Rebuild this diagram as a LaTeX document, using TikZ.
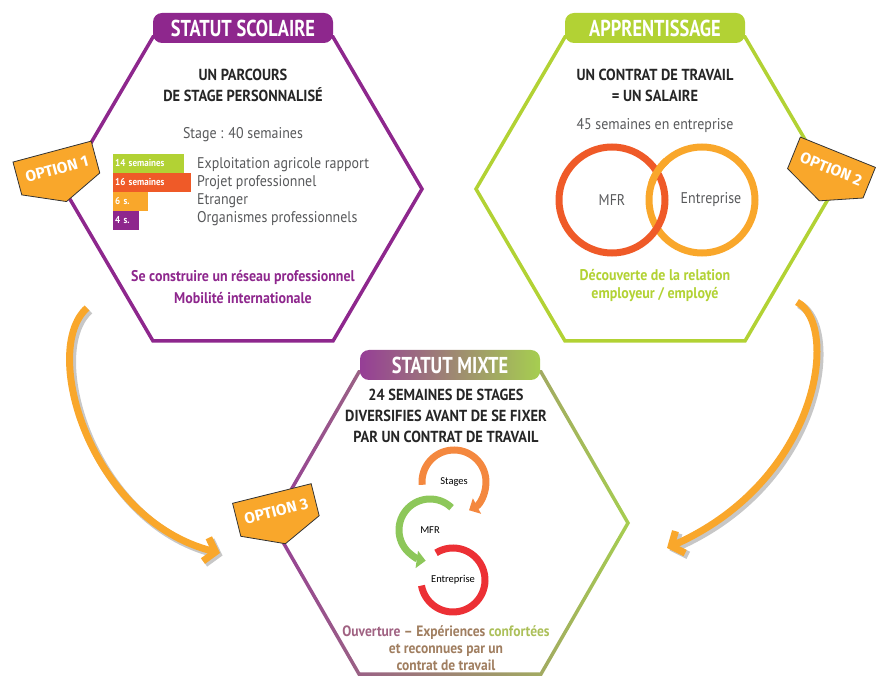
\documentclass[tikz,border=0pt]{standalone}
\usepackage{fontspec}
\setmainfont{PT Sans}[FakeStretch=0.9]
\newfontfamily\titlefamily{PT Sans}[FakeStretch=0.8]
\newfontfamily\tagfamily{Fira Sans}
\newfontfamily\cyclefamily{Carlito}
\usepackage{xcolor}
\usepackage{tikz}
\usetikzlibrary{arrows.meta,positioning}
\definecolor{scolpurple}{RGB}{142, 39, 141}
\definecolor{apprgreen}{RGB}{178, 210, 52}
\definecolor{mixpurple}{RGB}{150, 62, 150}
\definecolor{mixgreen}{RGB}{166, 206, 80}
\definecolor{tagorange}{RGB}{249, 167, 43}
\definecolor{barred}{RGB}{239, 90, 40}
\definecolor{textgray}{RGB}{88, 89, 91}
\definecolor{stageorange}{RGB}{244, 136, 63}
\definecolor{cycgreen}{RGB}{141, 199, 90}
\definecolor{cycred}{RGB}{236, 48, 53}
\definecolor{txtmauve}{RGB}{160, 98, 130}
\definecolor{txtbrown}{RGB}{160, 126, 96}
\definecolor{txtolive}{RGB}{172, 192, 90}

\newcommand{\titlesize}{\titlefamily\bfseries\fontsize{23}{25}\selectfont}
\newcommand{\headsize}{\fontsize{16}{21}\selectfont}
\newcommand{\graysize}{\fontsize{15.5}{17}\selectfont}
\newcommand{\slogansize}{\fontsize{15.5}{18}\selectfont}

% flat-topped hexagon round (#2,#3)
\newcommand{\hexagon}[3]{\draw[hexline, #1] ({#2-90},{#3+152}) -- ({#2+90},{#3+152}) -- ({#2+179},#3) -- ({#2+90},{#3-152}) -- ({#2-90},{#3-152}) -- ({#2-179},#3) -- cycle;}
% option tag: name, x, y, angle, text
\newcommand{\optiontag}[5]{%
  \begin{scope}[shift={(#2,#3)}, rotate=#4]
    \draw[tag] (-40.5,17) -- (40.5,17) -- (40.5,-16) -- (1,-35) -- (-40.5,-17) -- cycle;
    \node[tagtxt] (#1) at (0,-1) {#5};
  \end{scope}}

\tikzset{
  hexline/.style={line width=3.5pt, line join=miter},
  titlepill/.style={rectangle, rounded corners=9pt, minimum width=180pt, minimum height=30pt, inner sep=0pt, text=white, font=\titlesize},
  headtxt/.style={align=center, font=\headsize\bfseries, text=black!85},
  graytxt/.style={font=\graysize, text=textgray, inner sep=0pt},
  slogan/.style={align=center, font=\slogansize\bfseries},
  bar/.style={anchor=west, minimum height=19pt, inner xsep=2pt, inner ysep=0pt, align=left, text=white, font=\fontsize{10}{12}\selectfont\bfseries},
  tag/.style={draw=black!80, line width=0.8pt, fill=tagorange, line join=miter},
  tagtxt/.style={text=white, font=\tagfamily\bfseries\fontsize{15.5}{16}\selectfont, inner sep=0pt, transform shape},
  ring/.style={circle, line width=7pt, minimum size=106pt, inner sep=0pt, font=\graysize, text=textgray},
  cyc/.style={line width=7pt},
  cyctxt/.style={font=\cyclefamily\fontsize{10.5}{12}\selectfont},
  bigarrow/.style={line width=7pt, draw=tagorange, -{Straight Barb[length=10pt,width=24pt]}},
  arrowshadow/.style={line width=8pt, draw=black!22, -{Straight Barb[length=10pt,width=24pt]}},
}

\begin{document}
\begin{tikzpicture}[x=1pt, y=1pt]
  \useasboundingbox (0,0) rectangle (895,-700);

  % curved arrows towards the mixed status
  \coordinate (lstart) at (87,-308);
  \coordinate (lend) at (220,-553);
  \coordinate (rstart) at (797,-302);
  \coordinate (rend) at (667,-548);
  \draw[arrowshadow] ([xshift=2.5pt,yshift=-2.5pt]lstart) .. controls (42.5,-352.5) and (92.5,-522.5) .. ([xshift=2.5pt,yshift=-2.5pt]lend);
  \draw[arrowshadow] ([xshift=2.5pt,yshift=-2.5pt]rstart) .. controls (842.5,-327.5) and (822.5,-482.5) .. ([xshift=2.5pt,yshift=-2.5pt]rend);
  \draw[bigarrow] (lstart) .. controls (40,-350) and (90,-520) .. (lend);
  \draw[bigarrow] (rstart) .. controls (840,-325) and (820,-480) .. (rend);

  % hexagons
  \hexagon{scolpurple}{243}{-189}
  \hexagon{apprgreen}{655}{-189}
  \shade[left color=mixpurple, right color=mixgreen, even odd rule]
    (358,-370.25) -- (542,-370.25) -- (630,-523) -- (542,-675.75) -- (358,-675.75) -- (270,-523) -- cycle
    (360,-373.75) -- (274,-523) -- (360,-672.25) -- (540,-672.25) -- (626,-523) -- (540,-373.75) -- cycle;

  % titles
  \node[titlepill, fill=scolpurple] (scolaire) at (243,-28) {STATUT SCOLAIRE};
  \node[titlepill, fill=apprgreen] (apprentissage) at (655,-28) {APPRENTISSAGE};
  \node[titlepill, left color=mixpurple, right color=mixgreen] (mixte) at (450,-365) {STATUT MIXTE};

  % statut scolaire
  \node[headtxt] (parcours) at (243,-85) {UN PARCOURS\\DE STAGE PERSONNALISÉ};
  \node[graytxt] (stage) at (243,-135) {Stage : 40 semaines};
  \node[bar, fill=apprgreen, text width=67pt] (w14) at (113,-163.5) {14 semaines};
  \node[bar, fill=barred, text width=74pt] (w16) at (113,-182.5) {16 semaines};
  \node[bar, fill=tagorange, text width=31pt] (w6) at (113,-201.5) {6 s.};
  \node[bar, fill=scolpurple, text width=22pt] (w4) at (113,-220.5) {4 s.};
  \node[graytxt, anchor=west] (exploitation) at (197,-165) {Exploitation agricole rapport};
  \node[graytxt, anchor=west] (projet) at (197,-183) {Projet professionnel};
  \node[graytxt, anchor=west] (etranger) at (197,-201) {Etranger};
  \node[graytxt, anchor=west] (organismes) at (197,-219) {Organismes professionnels};
  \node[slogan, text=scolpurple] (reseau) at (243,-277) {Se construire un réseau professionnel};
  \node[slogan, text=scolpurple] (mobilite) at (243,-298) {Mobilité internationale};

  % apprentissage
  \node[headtxt] (contrat) at (655,-85) {UN CONTRAT DE TRAVAIL\\= UN SALAIRE};
  \node[graytxt] (entsemaines) at (655,-126) {45 semaines en entreprise};
  \node[ring, draw=tagorange] (entreprise) at (702,-200) {\hspace*{18pt}Entreprise};
  \node[ring, draw=barred] (mfr) at (612,-200) {MFR};
  \draw[line width=7pt, tagorange] ([shift={(132:53)}]entreprise.center) arc[start angle=132, end angle=162, radius=53];
  \node[slogan, text=apprgreen] (decouverte) at (655,-286) {Découverte de la relation\\employeur / employé};

  % statut mixte
  \node[headtxt] (diversifies) at (446,-416) {24 SEMAINES DE STAGES\\DIVERSIFIES AVANT DE SE FIXER\\PAR UN CONTRAT DE TRAVAIL};
  \node[cyctxt] (stages) at (454,-482) {Stages};
  \node[cyctxt] (mfrcyc) at (430,-530) {MFR};
  \node[cyctxt] (entrcyc) at (453,-580) {Entreprise};
  \draw[cyc, stageorange, -{Triangle[length=9pt,width=17pt]}] ([shift={(185:32)}]stages.center) arc[start angle=185, end angle=-62, radius=32];
  \draw[cyc, cycred] ([shift={(190:32)}]entrcyc.center) arc[start angle=190, end angle=482, radius=32];
  \draw[cyc, cycgreen, -{Triangle[length=9pt,width=17pt]}] ([shift={(46:31)}]mfrcyc.center) arc[start angle=46, end angle=262, radius=31];
  \node[slogan, font=\fontsize{15}{17}\selectfont\bfseries, text=txtbrown] (ouverture) at (446,-648)
    {\textcolor{txtmauve}{Ouverture} – Expériences \textcolor{txtolive}{confortées}\\et reconnues par un\\contrat de travail};

  % option tags
  \optiontag{opt1}{56.5}{-168}{15}{OPTION 1}
  \optiontag{opt2}{831.5}{-168}{-22}{OPTION 2}
  \optiontag{opt3}{276}{-510}{14}{OPTION 3}
\end{tikzpicture}
\end{document}
